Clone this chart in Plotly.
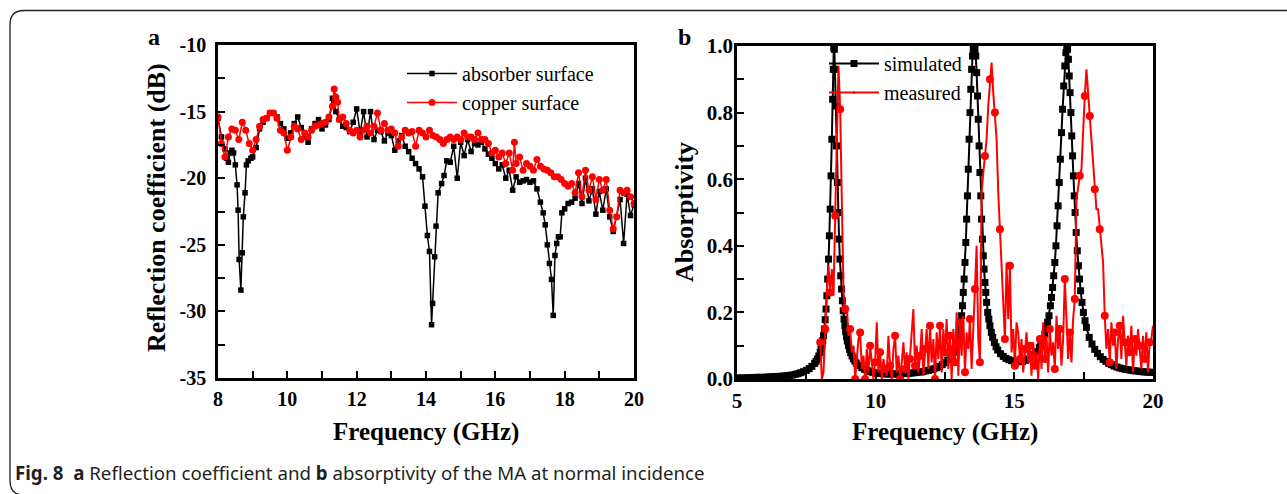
import numpy as np
import plotly.graph_objects as go

W, H = 1287, 494

# ---------------- Panel a data ----------------
freq_absorber = [8.0, 8.1, 8.2, 8.25, 8.3, 8.35, 8.4, 8.45, 8.5, 8.55, 8.58, 8.61, 8.66, 8.70, 8.73, 8.78, 8.82, 8.87, 8.95,
                 9.0, 9.1, 9.2, 9.3, 9.4, 9.5, 9.6, 9.7, 9.8, 9.9, 10.0, 10.1, 10.2, 10.3, 10.4, 10.5, 10.6, 10.7, 10.8, 10.9,
                 11.0, 11.1, 11.2, 11.3, 11.35, 11.4, 11.5, 11.6, 11.7, 11.8, 11.9, 12.0, 12.1, 12.2, 12.3, 12.4, 12.5, 12.6,
                 12.7, 12.8, 12.9, 13.0, 13.1, 13.2, 13.3, 13.4, 13.5, 13.6, 13.7, 13.8, 13.9, 13.97, 14.04, 14.10, 14.16,
                 14.19, 14.25, 14.29, 14.35, 14.45, 14.52, 14.6, 14.7, 14.8, 14.9, 15.0, 15.1, 15.2, 15.3, 15.4, 15.5, 15.6,
                 15.7, 15.8, 15.9, 16.0, 16.1, 16.2, 16.3, 16.4, 16.5, 16.6, 16.7, 16.8, 16.9, 17.0, 17.1, 17.2, 17.3, 17.38,
                 17.44, 17.5, 17.56, 17.62, 17.67, 17.72, 17.77, 17.82, 17.87, 17.92, 18.0, 18.1, 18.2, 18.3, 18.4, 18.5,
                 18.6, 18.7, 18.8, 18.9, 19.0, 19.1, 19.2, 19.3, 19.4, 19.5, 19.6, 19.7, 19.8, 19.9, 20.0]
refl_absorber = [-15.5, -16.9, -17.8, -18.5, -18.8, -18.1, -17.9, -18.1, -19.0, -20.5, -22.4, -26.1, -28.4, -25.6, -22.9,
                 -21.1, -19.0, -18.7, -18.5, -18.4, -17.7, -16.3, -15.8, -15.5, -15.1, -15.1, -15.4, -15.9, -16.3, -17.0,
                 -16.6, -15.9, -15.4, -16.2, -16.9, -17.3, -16.3, -15.9, -15.6, -16.3, -16.0, -15.6, -14.0, -14.3, -15.0,
                 -15.6, -16.1, -16.2, -16.5, -15.8, -14.8, -16.6, -15.0, -16.9, -15.0, -17.1, -16.4, -16.5, -17.2, -16.6,
                 -16.8, -17.9, -17.2, -16.8, -17.6, -18.0, -18.5, -18.9, -19.3, -19.9, -22.1, -24.3, -25.5, -31.0, -29.4,
                 -25.9, -23.6, -21.1, -20.4, -19.8, -18.7, -18.8, -17.6, -20.0, -17.3, -18.3, -17.1, -18.0, -17.4, -17.5,
                 -17.3, -17.8, -18.2, -18.5, -18.9, -19.3, -19.0, -20.0, -19.4, -20.9, -19.9, -20.3, -20.2, -20.1, -20.3,
                 -20.2, -20.8, -21.8, -22.6, -23.5, -25.0, -26.4, -27.6, -30.3, -25.8, -24.9, -24.4, -24.4, -22.6, -22.3,
                 -21.9, -21.8, -21.5, -20.4, -21.9, -20.0, -21.7, -20.8, -22.7, -21.0, -22.4, -20.8, -22.9, -24.0, -22.9,
                 -21.6, -24.9, -21.2, -22.8, -22.0]

freq_copper = [8.0, 8.1, 8.2, 8.3, 8.4, 8.5, 8.6, 8.7, 8.8, 8.9, 9.0, 9.1, 9.2, 9.3, 9.4, 9.5, 9.6, 9.7, 9.8, 9.9,
               10.0, 10.1, 10.2, 10.3, 10.4, 10.5, 10.6, 10.7, 10.8, 10.9, 11.0, 11.1, 11.2, 11.3, 11.35, 11.4, 11.45,
               11.5, 11.6, 11.7, 11.8, 11.9, 12.0, 12.1, 12.2, 12.3, 12.4, 12.5, 12.6, 12.7, 12.8, 12.9, 13.0, 13.1,
               13.2, 13.3, 13.4, 13.5, 13.6, 13.7, 13.8, 13.9, 14.0, 14.1, 14.2, 14.3, 14.4, 14.5, 14.6, 14.7, 14.8,
               14.9, 15.0, 15.1, 15.2, 15.3, 15.4, 15.5, 15.6, 15.7, 15.8, 15.9, 16.0, 16.1, 16.2, 16.3, 16.4, 16.5,
               16.55, 16.6, 16.7, 16.8, 16.9, 17.0, 17.1, 17.2, 17.3, 17.4, 17.5, 17.6, 17.7, 17.8, 17.9, 18.0, 18.1,
               18.2, 18.3, 18.4, 18.5, 18.6, 18.7, 18.8, 18.9, 19.0, 19.1, 19.2, 19.3, 19.4, 19.5, 19.6, 19.7, 19.8,
               19.9, 20.0]
refl_copper = [-15.4, -17.4, -18.4, -16.9, -16.3, -16.4, -17.1, -15.8, -16.4, -17.4, -17.9, -17.1, -16.1, -15.6, -15.5,
               -15.1, -15.1, -15.5, -16.4, -16.6, -17.9, -16.9, -16.1, -16.3, -17.1, -16.6, -16.9, -16.4, -16.1, -16.0,
               -15.9, -15.8, -15.4, -14.6, -13.3, -13.9, -14.3, -15.6, -15.4, -15.9, -16.4, -16.6, -16.4, -16.9, -16.4,
               -16.1, -16.6, -16.1, -15.1, -16.4, -15.9, -16.4, -16.3, -16.6, -17.6, -16.9, -16.4, -16.6, -16.5, -17.6,
               -16.4, -16.6, -16.9, -16.4, -16.8, -16.9, -17.1, -17.4, -17.1, -16.9, -17.1, -16.9, -17.1, -16.6, -16.9,
               -16.9, -17.1, -16.6, -17.1, -17.1, -17.4, -18.1, -17.9, -18.4, -18.1, -18.9, -18.1, -19.4, -17.3, -18.9,
               -18.4, -19.4, -18.9, -19.1, -19.4, -18.6, -19.1, -19.3, -19.4, -19.6, -19.9, -19.9, -20.1, -20.4, -20.6,
               -20.4, -21.1, -19.6, -21.4, -19.4, -20.9, -19.9, -21.6, -20.1, -20.9, -20.1, -22.4, -23.8, -22.9, -20.9,
               -21.1, -20.9, -21.4, -21.9]

# ---------------- Panel b data ----------------
freq_simulated = [5.0, 5.1, 5.2, 5.3, 5.4, 5.5, 5.6, 5.7, 5.8, 5.9, 6.0, 6.1, 6.2, 6.3, 6.4, 6.5, 6.6, 6.7, 6.8, 6.9,
                  7.0, 7.1, 7.2, 7.3, 7.4, 7.5, 7.6, 7.7, 7.8, 7.85, 7.9, 7.95, 8.0, 8.03, 8.06, 8.09, 8.12, 8.15, 8.18,
                  8.21, 8.24, 8.27, 8.30, 8.33, 8.36, 8.39, 8.42, 8.45, 8.47, 8.49, 8.51, 8.53, 8.56, 8.59, 8.62, 8.65,
                  8.68, 8.71, 8.74, 8.77, 8.80, 8.83, 8.86, 8.89, 8.92, 8.95, 8.98, 9.02, 9.06, 9.10, 9.15, 9.2, 9.25,
                  9.3, 9.4, 9.5, 9.6, 9.7, 9.8, 9.9, 10.0, 10.1, 10.2, 10.3, 10.4, 10.5, 10.6, 10.7, 10.8, 10.9, 11.0,
                  11.1, 11.2, 11.3, 11.4, 11.5, 11.6, 11.7, 11.8, 11.9, 12.0, 12.1, 12.2, 12.3, 12.4, 12.5, 12.6, 12.7,
                  12.75, 12.8, 12.85, 12.9, 12.94, 12.98, 13.02, 13.06, 13.10, 13.13, 13.16, 13.19, 13.22, 13.25, 13.28,
                  13.31, 13.34, 13.37, 13.40, 13.43, 13.46, 13.49, 13.52, 13.55, 13.58, 13.61, 13.64, 13.67, 13.70,
                  13.73, 13.76, 13.79, 13.82, 13.85, 13.88, 13.91, 13.94, 13.97, 14.00, 14.04, 14.08, 14.12, 14.17,
                  14.22, 14.28, 14.34, 14.4, 14.5, 14.6, 14.7, 14.8, 14.9, 15.0, 15.1, 15.2, 15.3, 15.4, 15.5, 15.6,
                  15.7, 15.8, 15.9, 15.95, 16.0, 16.05, 16.1, 16.15, 16.2, 16.25, 16.3, 16.34, 16.38, 16.42, 16.46,
                  16.50, 16.54, 16.58, 16.62, 16.66, 16.70, 16.74, 16.78, 16.82, 16.86, 16.89, 16.92, 16.95, 16.98,
                  17.01, 17.04, 17.07, 17.10, 17.13, 17.16, 17.19, 17.23, 17.27, 17.31, 17.35, 17.39, 17.44, 17.49,
                  17.55, 17.6, 17.7, 17.8, 17.9, 18.0, 18.1, 18.2, 18.3, 18.4, 18.5, 18.6, 18.7, 18.8, 18.9, 19.0, 19.1,
                  19.2, 19.3, 19.4, 19.5, 19.6, 19.7, 19.8, 19.9, 20.0]
absorp_simulated = [0.003, 0.003, 0.003, 0.003, 0.004, 0.004, 0.004, 0.005, 0.005, 0.005, 0.005, 0.006, 0.006, 0.007,
                    0.007, 0.008, 0.008, 0.009, 0.010, 0.011, 0.012, 0.014, 0.016, 0.019, 0.022, 0.026, 0.031, 0.038,
                    0.047, 0.053, 0.060, 0.069, 0.080, 0.090, 0.100, 0.115, 0.130, 0.150, 0.178, 0.210, 0.250, 0.300,
                    0.360, 0.430, 0.510, 0.610, 0.720, 0.840, 0.930, 0.995, 0.990, 0.930, 0.820, 0.700, 0.590, 0.500,
                    0.420, 0.360, 0.310, 0.270, 0.235, 0.205, 0.180, 0.160, 0.142, 0.127, 0.114, 0.100, 0.089, 0.079,
                    0.069, 0.061, 0.054, 0.048, 0.040, 0.034, 0.029, 0.025, 0.022, 0.020, 0.018, 0.017, 0.016, 0.016,
                    0.015, 0.015, 0.015, 0.015, 0.015, 0.016, 0.016, 0.017, 0.017, 0.018, 0.019, 0.020, 0.021, 0.022,
                    0.024, 0.026, 0.028, 0.031, 0.034, 0.038, 0.043, 0.049, 0.057, 0.067, 0.073, 0.080, 0.089, 0.100,
                    0.110, 0.120, 0.140, 0.160, 0.190, 0.220, 0.260, 0.300, 0.350, 0.410, 0.480, 0.550, 0.630, 0.720,
                    0.800, 0.870, 0.930, 0.970, 0.990, 0.998, 0.990, 0.970, 0.920, 0.850, 0.780, 0.700, 0.620, 0.550,
                    0.480, 0.420, 0.370, 0.330, 0.290, 0.260, 0.230, 0.200, 0.180, 0.160, 0.140, 0.125, 0.110, 0.097,
                    0.087, 0.076, 0.068, 0.062, 0.058, 0.055, 0.053, 0.052, 0.052, 0.053, 0.056, 0.060, 0.066, 0.073,
                    0.082, 0.094, 0.100, 0.110, 0.120, 0.135, 0.150, 0.170, 0.190, 0.220, 0.245, 0.275, 0.310, 0.350,
                    0.400, 0.460, 0.520, 0.590, 0.660, 0.740, 0.810, 0.880, 0.940, 0.980, 0.998, 0.990, 0.960, 0.910,
                    0.860, 0.800, 0.730, 0.670, 0.610, 0.550, 0.500, 0.440, 0.385, 0.340, 0.300, 0.265, 0.230, 0.200,
                    0.175, 0.155, 0.125, 0.105, 0.089, 0.077, 0.067, 0.059, 0.053, 0.047, 0.043, 0.039, 0.036, 0.033,
                    0.031, 0.029, 0.028, 0.026, 0.025, 0.024, 0.023, 0.022, 0.021, 0.021, 0.020, 0.020]

freq_measured = np.round(np.linspace(8.0, 20.0, 201), 2)
absorp_measured = [
    0.11, 0.00, 0.02, 0.15, 0.27, 0.34, 0.26, 0.33, 0.25, 0.49,
    0.75, 0.94, 0.81, 0.49, 0.26, 0.21, 0.22, 0.13, 0.15, 0.08,
    0.10, 0.00, 0.06, 0.12, 0.14, 0.03, 0.07, 0.00, 0.09, 0.02,
    0.10, 0.04, 0.00, 0.05, 0.17, 0.02, 0.08, 0.00, 0.06, 0.03,
    0.01, 0.13, 0.04, 0.00, 0.09, 0.13, 0.02, 0.07, 0.00, 0.05,
    0.11, 0.03, 0.08, 0.00, 0.06, 0.14, 0.21, 0.04, 0.10, 0.02,
    0.07, 0.15, 0.01, 0.09, 0.15, 0.03, 0.16, 0.05, 0.12, 0.00,
    0.14, 0.06, 0.16, 0.02, 0.15, 0.08, 0.18, 0.03, 0.13, 0.00,
    0.15, 0.05, 0.20, 0.01, 0.17, 0.07, 0.19, 0.02, 0.14, 0.09,
    0.18, 0.03, 0.18, 0.27, 0.40, 0.12, 0.05, 0.56, 0.62, 0.67,
    0.72, 0.82, 0.90, 0.95, 0.86, 0.80, 0.72, 0.56, 0.45, 0.35,
    0.20, 0.12, 0.35, 0.18, 0.34, 0.08, 0.15, 0.04, 0.17, 0.14,
    0.06, 0.12, 0.02, 0.09, 0.14, 0.05, 0.10, 0.01, 0.11, 0.04,
    0.08, 0.00, 0.12, 0.03, 0.17, 0.06, 0.13, 0.02, 0.15, 0.07,
    0.11, 0.03, 0.19, 0.09, 0.15, 0.04, 0.12, 0.30, 0.16, 0.06,
    0.14, 0.05, 0.18, 0.24, 0.54, 0.58, 0.61, 0.63, 0.75, 0.85,
    0.93, 0.86, 0.79, 0.72, 0.64, 0.57, 0.51, 0.51, 0.45, 0.40,
    0.35, 0.19, 0.09, 0.15, 0.05, 0.17, 0.10, 0.14, 0.03, 0.12,
    0.16, 0.06, 0.19, 0.11, 0.04, 0.13, 0.08, 0.16, 0.02, 0.12,
    0.07, 0.15, 0.10, 0.03, 0.13, 0.06, 0.14, 0.02, 0.11, 0.12,
    0.16]

# ticks
xa_ticks = [8, 10, 12, 14, 16, 18, 20]
ya_ticks = [-35, -30, -25, -20, -15, -10]
ya_ticklabels = ["-35", "-30", "-25", "-20", "-15", "-10"]
xb_ticks = [5, 10, 15, 20]
yb_ticks = [0.0, 0.2, 0.4, 0.6, 0.8, 1.0]
yb_ticklabels = ["0.0", "0.2", "0.4", "0.6", "0.8", "1.0"]

SERIF = "Liberation Serif"
RED = "#ff0000"

def px_x(p):
    return p / W

def px_y(p):
    return 1 - p / H

meas_sizes = [8 if i % 3 == 0 else 0 for i in range(len(absorp_measured))]

fig = go.Figure()
fig.add_trace(go.Scatter(x=freq_absorber, y=refl_absorber, name="absorber surface", mode="lines+markers",
                         line=dict(color="black", width=1.5),
                         marker=dict(symbol="square", size=5.5, color="black", opacity=1, line=dict(width=0)),
                         xaxis="x", yaxis="y", legend="legend"))
fig.add_trace(go.Scatter(x=freq_copper, y=refl_copper, name="copper surface", mode="lines+markers",
                         line=dict(color=RED, width=1.5),
                         marker=dict(symbol="circle", size=7, color=RED, opacity=1, line=dict(width=0)),
                         xaxis="x", yaxis="y", legend="legend"))
fig.add_trace(go.Scatter(x=freq_simulated, y=absorp_simulated, name="simulated", mode="lines+markers",
                         line=dict(color="black", width=2),
                         marker=dict(symbol="square", size=7, color="black", opacity=1, line=dict(width=0)),
                         xaxis="x2", yaxis="y2", legend="legend2"))
fig.add_trace(go.Scatter(x=freq_measured, y=absorp_measured, name="measured", mode="lines+markers",
                         line=dict(color=RED, width=2),
                         marker=dict(symbol="circle", size=meas_sizes, color=RED, opacity=1, line=dict(width=0)),
                         xaxis="x2", yaxis="y2", legend="legend2"))

axis_common = dict(showline=True, linecolor="black", linewidth=2.5, mirror=True, ticks="inside", ticklen=7,
                   tickwidth=2, tickcolor="black", showgrid=False, zeroline=False, automargin=False)
tick_font_a = dict(family=SERIF, size=20, color="black", weight="bold")
tick_font_b = dict(family=SERIF, size=21, color="black", weight="bold")

fig.update_layout(
    width=W, height=H, margin=dict(l=0, r=0, t=0, b=0, pad=0, autoexpand=False),
    paper_bgcolor="white", plot_bgcolor="white",
    xaxis=dict(domain=[px_x(218), px_x(634)], range=[8, 20], tickvals=xa_ticks, anchor="y",
               minor=dict(ticks="inside", dtick=1, ticklen=7, tickwidth=2, tickcolor="black"),
               ticklabelstandoff=1, tickfont=tick_font_a, **axis_common),
    yaxis=dict(domain=[px_y(378), px_y(45)], range=[-35, -10], tickvals=ya_ticks, ticktext=ya_ticklabels,
               anchor="x", minor=dict(ticks="inside", dtick=2.5, ticklen=7, tickwidth=2, tickcolor="black"),
               ticklabelstandoff=5, tickfont=tick_font_a, **axis_common),
    xaxis2=dict(domain=[px_x(737), px_x(1153)], range=[5, 20], tickvals=xb_ticks, anchor="y2",
                minor=dict(ticks="inside", dtick=2.5, ticklen=7, tickwidth=2, tickcolor="black"),
                ticklabelstandoff=1, tickfont=tick_font_b, **axis_common),
    yaxis2=dict(domain=[px_y(379), px_y(46)], range=[0, 1], tickvals=yb_ticks, ticktext=yb_ticklabels,
                anchor="x2", minor=dict(ticks="inside", dtick=0.1, ticklen=7, tickwidth=2, tickcolor="black"),
                ticklabelstandoff=-3, tickfont=tick_font_b, **axis_common),
    legend=dict(x=px_x(402), y=px_y(54), xanchor="left", yanchor="top", bgcolor="rgba(0,0,0,0)",
                font=dict(family=SERIF, size=20, color="black"), itemwidth=50, tracegroupgap=0),
    legend2=dict(x=px_x(824), y=px_y(44), xanchor="left", yanchor="top", bgcolor="rgba(0,0,0,0)",
                 font=dict(family=SERIF, size=20, color="black"), itemwidth=50, tracegroupgap=0),
    showlegend=True,
)

ann = []
def add_text(text, x, y, size, angle=0, xanchor="center", family=SERIF, color="black"):
    ann.append(dict(text=text, x=px_x(x), y=px_y(y), xref="paper", yref="paper", showarrow=False,
                    textangle=angle, xanchor=xanchor, yanchor="middle",
                    font=dict(family=family, size=size, color=color)))

add_text("<b>a</b>", 154, 37, 24)
add_text("<b>b</b>", 684, 37, 24)
add_text("<b>Reflection coefficient (dB)</b>", 156, 208, 26, angle=-90)
add_text("<b>Absorptivity</b>", 684, 212, 26, angle=-90)
add_text("<b>Frequency (GHz)</b>", 426, 432, 25)
add_text("<b>Frequency (GHz)</b>", 945, 432, 25)
add_text("<b>Fig. 8</b>  <b>a</b> Reflection coefficient and <b>b</b> absorptivity of the MA at normal incidence",
         13, 472, 18.7, xanchor="left", family="Noto Sans", color="#231f20")
fig.update_layout(annotations=ann)

# rounded frame around figure + caption
x0, y0, y1, r = 10, 10.5, 495, 14
path = (f"M 1.01,{px_y(y0)} L {px_x(x0 + r)},{px_y(y0)} Q {px_x(x0)},{px_y(y0)} {px_x(x0)},{px_y(y0 + r)} "
        f"L {px_x(x0)},{px_y(y1 - r)} Q {px_x(x0)},{px_y(y1)} {px_x(x0 + r)},{px_y(y1)} L 1.01,{px_y(y1)}")
fig.add_shape(type="path", path=path, xref="paper", yref="paper", line=dict(color="#231f20", width=1.3))

fig.write_html("out.html")
